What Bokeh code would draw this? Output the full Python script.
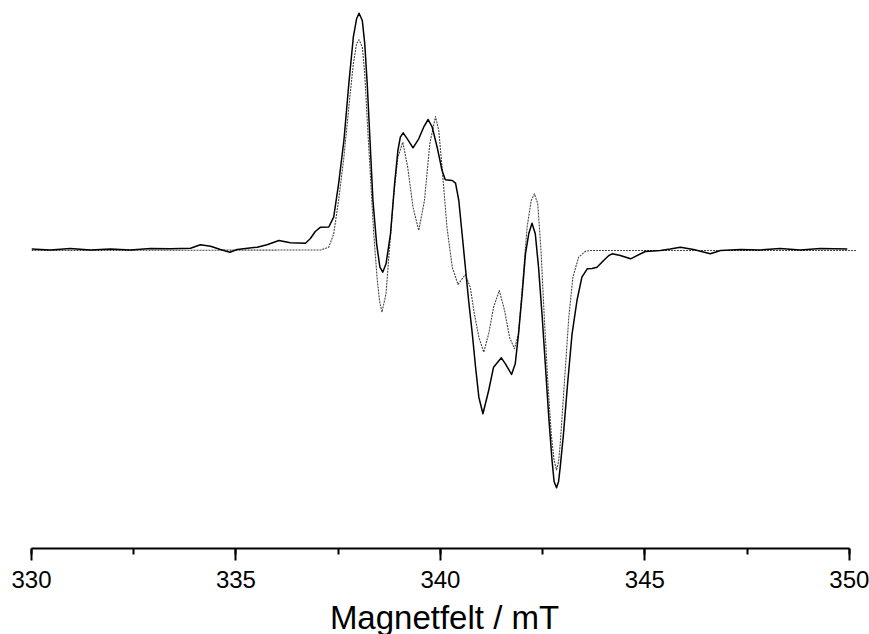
from bokeh.plotting import figure
from bokeh.models import Range1d, SingleIntervalTicker
from bokeh.embed import file_html
from bokeh.resources import INLINE

# Experimental spectrum (solid) – field in mT, intensity in arbitrary units
exp_field = [330.00, 330.46, 330.95, 331.44, 331.93, 332.42, 332.91, 333.40, 333.89, 334.13,
             334.38, 334.62, 334.85, 335.03, 335.52, 335.76, 336.05, 336.33, 336.70, 336.82,
             336.94, 337.07, 337.27, 337.39, 337.51, 337.64, 337.76, 337.87, 337.95, 338.01,
             338.09, 338.15, 338.21, 338.27, 338.35, 338.44, 338.52, 338.59, 338.67, 338.78,
             338.88, 338.96, 339.02, 339.09, 339.19, 339.33, 339.47, 339.59, 339.70, 339.80,
             339.92, 340.04, 340.12, 340.29, 340.37, 340.45, 340.53, 340.61, 340.69, 340.78,
             340.86, 340.94, 341.04, 341.18, 341.30, 341.49, 341.59, 341.74, 341.83, 341.91,
             342.00, 342.08, 342.16, 342.24, 342.32, 342.40, 342.49, 342.57, 342.65, 342.73,
             342.78, 342.84, 342.89, 342.93, 343.01, 343.11, 343.22, 343.34, 343.46, 343.59,
             343.71, 343.83, 343.99, 344.12, 344.20, 344.40, 344.65, 345.01, 345.38, 345.62,
             345.87, 346.19, 346.60, 346.85, 347.34, 347.82, 348.31, 348.80, 349.29, 349.95]
exp_signal = [1.5, 0.5, 2.0, 0.5, 1.5, 0.5, 2.0, 1.7, 2.3, 5.7,
              4.3, 1.0, -1.7, 1.0, 3.3, 5.7, 10.0, 7.7, 7.3, 12.0,
              19.0, 23.3, 23.5, 33.3, 66.7, 110.0, 166.7, 213.3, 231.7, 237.3,
              230.0, 206.7, 166.7, 116.7, 50.0, 6.7, -16.7, -21.7, -13.3, 16.7,
              66.7, 100.0, 113.3, 117.7, 111.7, 102.7, 111.7, 123.3, 131.0, 123.3,
              103.3, 80.0, 70.7, 70.0, 67.3, 50.0, 16.7, -16.7, -50.0, -83.3,
              -116.7, -146.7, -163.3, -140.0, -116.7, -107.3, -113.3, -124.0, -113.3, -83.3,
              -43.3, -3.3, 16.7, 27.3, 16.7, -16.7, -66.7, -116.7, -166.7, -210.0,
              -231.0, -237.3, -231.0, -216.7, -183.3, -133.3, -83.3, -50.0, -26.7, -18.3,
              -18.0, -16.7, -10.0, -5.0, -3.3, -5.0, -8.3, -1.0, 0.0, 1.5,
              3.3, 1.0, -3.3, 0.0, 1.0, 0.5, 2.0, 0.5, 2.0, 1.5]

# Simulated spectrum (dotted)
sim_field = [330.00, 337.07, 337.27, 337.39, 337.51, 337.64, 337.76, 337.87, 337.95, 338.01,
             338.09, 338.15, 338.22, 338.29, 338.37, 338.45, 338.51, 338.57, 338.67, 338.75,
             338.86, 338.96, 339.08, 339.20, 339.33, 339.47, 339.61, 339.74, 339.88, 339.96,
             340.04, 340.16, 340.29, 340.43, 340.61, 340.73, 340.83, 340.94, 341.06, 341.18,
             341.30, 341.44, 341.57, 341.69, 341.81, 341.91, 342.01, 342.12, 342.22, 342.30,
             342.38, 342.46, 342.54, 342.62, 342.71, 342.78, 342.84, 342.89, 342.93, 343.03,
             343.14, 343.24, 343.38, 343.55, 343.67, 350.17]
sim_signal = [0.0, 0.5, 3.3, 16.7, 50.0, 93.3, 143.3, 186.7, 206.7, 210.7,
              203.3, 176.7, 123.3, 73.3, 16.7, -26.7, -50.0, -61.7, -43.3, 0.0,
              56.7, 93.3, 108.3, 83.3, 43.3, 20.0, 50.0, 106.7, 134.0, 120.0,
              83.3, 23.3, -16.7, -34.0, -24.0, -36.7, -63.3, -86.7, -101.7, -83.3,
              -56.7, -40.0, -60.0, -86.7, -98.3, -83.3, -33.3, 23.3, 50.0, 56.7,
              46.7, 0.0, -66.7, -126.7, -183.3, -210.0, -219.3, -211.0, -193.3, -133.3,
              -66.7, -26.7, -6.7, -0.7, 0.0, 0.0]

tick_interval = 5
x_label = "Magnetfelt / mT"
font = "Liberation Sans"

p = figure(frame_width=826, frame_height=548, output_backend="svg", toolbar_location=None,
           x_range=Range1d(330, 350.2), y_range=Range1d(-298, 250),
           min_border_left=31, min_border_right=12, min_border_top=0, min_border_bottom=86)
p.outline_line_color = None
p.grid.visible = False
p.yaxis.visible = False
p.background_fill_color = "white"
p.border_fill_color = "white"

p.line(sim_field, sim_signal, line_color="#444444", line_width=1.1, line_dash="2 1",
       line_join="round")
p.line(exp_field, exp_signal, line_color="black", line_width=1.5, line_join="round")

ax = p.xaxis[0]
ax.ticker = SingleIntervalTicker(interval=tick_interval, num_minor_ticks=2)
ax.bounds = (330, 350)
ax.axis_label = x_label
ax.axis_line_width = 2
ax.major_tick_line_width = 2
ax.minor_tick_line_width = 2
ax.major_tick_in = 0
ax.major_tick_out = 12
ax.minor_tick_in = 0
ax.minor_tick_out = 6
ax.major_label_text_font = font
ax.major_label_text_font_size = "24px"
ax.major_label_text_color = "black"
ax.major_label_standoff = 10
ax.axis_label_text_font = font
ax.axis_label_text_font_size = "33px"
ax.axis_label_text_font_style = "normal"
ax.axis_label_text_color = "black"
ax.axis_label_standoff = 8

open("out.html", "w").write(file_html(p, INLINE))
